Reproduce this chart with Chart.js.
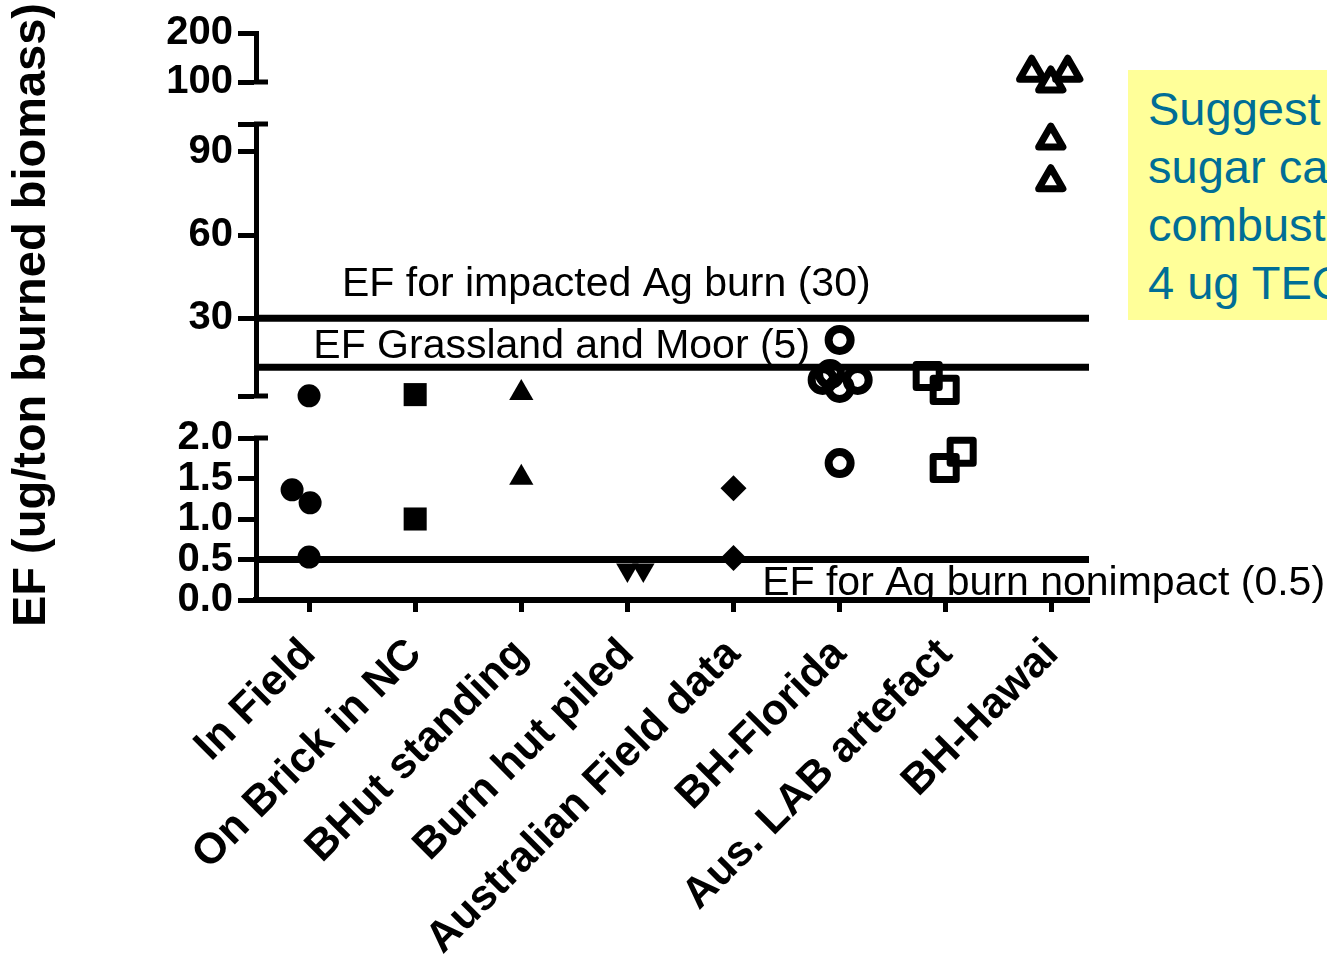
<!DOCTYPE html>
<html>
<head>
<meta charset="utf-8">
<title>EF by burn type</title>
<script src="https://cdn.jsdelivr.net/npm/chart.js@4.4.1/dist/chart.umd.min.js"></script>
<style>
  html, body { margin: 0; padding: 0; background: #fff; overflow: hidden; }
  #wrap { position: relative; width: 1327px; height: 956px; overflow: hidden; }
  #note {
    position: absolute; left: 1128px; top: 70px; width: 300px; height: 250px;
    background: #ffff99; color: #006e96; box-sizing: border-box;
    padding: 10px 0 0 20px; white-space: nowrap;
    font: 47px 'Liberation Sans', Arial, sans-serif; line-height: 58px;
  }
</style>
</head>
<body>
<div id="wrap">
  <canvas id="efChart" width="1327" height="956"></canvas>
  <div id="note">Suggest<br>sugar cane<br>combustion<br>4 ug TEQ</div>
</div>
<script>
// Data
const CATEGORIES = ['In Field', 'On Brick in NC', 'BHut standing', 'Burn hut piled',
  'Australian Field data', 'BH-Florida', 'Aus. LAB artefact', 'BH-Hawai'];
const Y_TITLE = 'EF (ug/ton burned biomass)';

// broken y axis: three segments
const TOP_TICKS = [100, 200];
const TOP_LABELS = ['100', '200'];
const MID_TICKS = [2, 30, 60, 90, 100];
const MID_LABELS = ['', '30', '60', '90', ''];
const LOW_TICKS = [0, 0.5, 1, 1.5, 2];
const LOW_LABELS = ['0.0', '0.5', '1.0', '1.5', '2.0'];

// reference lines (value as drawn)
const REF_IMPACTED = 30;
const REF_GRASS = 12.4;
const REF_NONIMPACT = 0.5;

// points: x = category index (with jitter), y = EF
const inFieldMid = [{x: 0, y: 2.05}];
const inFieldLow = [{x: -0.16, y: 1.36}, {x: 0.01, y: 1.2}, {x: 0, y: 0.53}];
const brickMid = [{x: 1, y: 2.5}];
const brickLow = [{x: 1, y: 1.0}];
const bhutMid = [{x: 2, y: 3.1}];
const bhutLow = [{x: 2, y: 1.51}];
const pileLow = [{x: 3, y: 0.37}, {x: 3.15, y: 0.37}];
const ausFieldLow = [{x: 4, y: 1.38}, {x: 4, y: 0.52}];
const floridaMid = [{x: 5, y: 22.2}, {x: 4.84, y: 7.8}, {x: 4.91, y: 9.9}, {x: 5, y: 4.9}, {x: 5.17, y: 7.8}];
const floridaLow = [{x: 5, y: 1.69}];
const ausLabMid = [{x: 5.83, y: 9.2}, {x: 5.99, y: 4.2}];
const ausLabLow = [{x: 5.99, y: 1.63}, {x: 6.15, y: 1.83}];
const hawaiTop = [{x: 6.81, y: 120}, {x: 6.99, y: 98}, {x: 7.15, y: 120}];
const hawaiMid = [{x: 6.99, y: 94.2}, {x: 6.99, y: 79.2}];

const FONT = "'Liberation Sans', Arial, sans-serif";
const X_MIN = -0.5;
const X_MAX = 7.35;

// text next to the reference lines
const REF_NOTES = [
  {text: 'EF for impacted Ag burn (30)', x: 0.31, y: 42.2, axis: 'yMid'},
  {text: 'EF Grassland and Moor (5)', x: 0.04, y: 19.6, axis: 'yMid'},
  {text: 'EF for Ag burn nonimpact (0.5)', x: 4.27, y: 0.2, axis: 'yLow'}
];

// short caps to the right of each axis segment end
const AXIS_CAPS = [
  {axis: 'yTop', end: 'min'},
  {axis: 'yMid', end: 'min'},
  {axis: 'yMid', end: 'max'},
  {axis: 'yLow', end: 'max'}
];

/**
 * Build a scatter dataset of markers
 */
function markers(data, axis, style, radius, filled, extra) {
  return Object.assign({
    type: 'scatter',
    data,
    yAxisID: axis,
    pointStyle: style,
    pointRadius: radius,
    pointHoverRadius: radius,
    pointBackgroundColor: filled ? '#000' : 'rgba(0,0,0,0)',
    pointBorderColor: '#000',
    pointBorderWidth: filled ? 0 : 7,
    clip: false
  }, extra || {});
}

function refLine(value, axis) {
  return {
    type: 'line',
    data: [{x: X_MIN, y: value}, {x: X_MAX, y: value}],
    yAxisID: axis,
    borderColor: '#000',
    borderWidth: 7,
    pointRadius: 0,
    showLine: true,
    fill: false
  };
}

function segmentAxis(min, max, tickValues, labels, weight, stackWeight) {
  return {
    type: 'linear',
    position: 'left',
    stack: 'ef',
    stackWeight,
    weight,
    min,
    max,
    afterBuildTicks: s => { s.ticks = tickValues.map(v => ({value: v})); },
    afterFit: s => { s.width = 256; },
    border: {display: true, color: '#000', width: 5},
    grid: {display: true, drawOnChartArea: false, drawTicks: true, tickLength: 18, tickWidth: 5, tickColor: '#000'},
    ticks: {
      autoSkip: false,
      padding: 5,
      color: '#000',
      font: {family: FONT, size: 40, weight: 'bold'},
      callback: (v, i) => labels[i]
    }
  };
}

function gapAxis(weight, stackWeight) {
  return {
    type: 'linear',
    position: 'left',
    stack: 'ef',
    stackWeight,
    weight,
    border: {display: false},
    grid: {display: false},
    ticks: {display: false}
  };
}

const yTitlePlugin = {
  id: 'yTitle',
  afterDraw(chart) {
    const ctx = chart.ctx;
    ctx.save();
    ctx.translate(32, 315);
    ctx.rotate(-Math.PI / 2);
    ctx.font = 'bold 47px ' + FONT;
    ctx.fillStyle = '#000';
    ctx.textAlign = 'center';
    ctx.textBaseline = 'middle';
    ctx.fillText(Y_TITLE, 0, 0);
    ctx.restore();
  }
};

const refNotesPlugin = {
  id: 'refNotes',
  afterDatasetsDraw(chart) {
    const ctx = chart.ctx;
    ctx.save();
    ctx.font = '41px ' + FONT;
    ctx.fillStyle = '#000';
    ctx.textAlign = 'left';
    ctx.textBaseline = 'middle';
    REF_NOTES.forEach(n => {
      const px = chart.scales.x.getPixelForValue(n.x);
      const py = chart.scales[n.axis].getPixelForValue(n.y);
      ctx.fillText(n.text, px, py);
    });
    ctx.restore();
  }
};

const axisCapsPlugin = {
  id: 'axisCaps',
  afterDraw(chart) {
    const ctx = chart.ctx;
    ctx.save();
    ctx.strokeStyle = '#000';
    ctx.lineWidth = 5;
    AXIS_CAPS.forEach(c => {
      const s = chart.scales[c.axis];
      const py = s.getPixelForValue(s[c.end]);
      ctx.beginPath();
      ctx.moveTo(s.right - 2, py);
      ctx.lineTo(s.right + 12, py);
      ctx.stroke();
    });
    ctx.restore();
  }
};

// rounded corners on thick marker outlines
const roundJoinPlugin = {
  id: 'roundJoin',
  beforeDatasetsDraw(chart) { chart.ctx.save(); chart.ctx.lineJoin = 'round'; },
  afterDatasetsDraw(chart) { chart.ctx.restore(); }
};

const datasets = [
  markers(inFieldMid, 'yMid', 'circle', 11.5, true),
  markers(inFieldLow, 'yLow', 'circle', 11.5, true),
  markers(brickMid, 'yMid', 'rect', 16.3, true),
  markers(brickLow, 'yLow', 'rect', 16.3, true),
  markers(bhutMid, 'yMid', 'triangle', 14, true),
  markers(bhutLow, 'yLow', 'triangle', 14, true),
  markers(pileLow, 'yLow', 'triangle', 13, true, {pointRotation: 180}),
  markers(ausFieldLow, 'yLow', 'rectRot', 13, true),
  markers(floridaMid, 'yMid', 'circle', 11, false, {pointBorderWidth: 8}),
  markers(floridaLow, 'yLow', 'circle', 11, false, {pointBorderWidth: 8}),
  markers(ausLabMid, 'yMid', 'rect', 16.3, false),
  markers(ausLabLow, 'yLow', 'rect', 16.3, false),
  markers(hawaiTop, 'yTop', 'triangle', 14, false),
  markers(hawaiMid, 'yMid', 'triangle', 14, false),
  refLine(REF_IMPACTED, 'yMid'),
  refLine(REF_GRASS, 'yMid'),
  refLine(REF_NONIMPACT, 'yLow')
];

new Chart(document.getElementById('efChart'), {
  type: 'scatter',
  data: {datasets},
  options: {
    responsive: false,
    devicePixelRatio: 1,
    animation: false,
    layout: {padding: {top: 33, right: 238, left: 0, bottom: 0}},
    plugins: {legend: {display: false}, tooltip: {enabled: false}},
    scales: {
      x: {
        type: 'linear',
        position: 'bottom',
        min: X_MIN,
        max: X_MAX,
        afterBuildTicks: s => { s.ticks = CATEGORIES.map((c, i) => ({value: i})); },
        afterFit: s => { s.height = 356; },
        border: {display: true, color: '#000', width: 6},
        grid: {display: true, drawOnChartArea: false, tickLength: 12, tickWidth: 5, tickColor: '#000'},
        ticks: {
          autoSkip: false,
          minRotation: 45,
          maxRotation: 45,
          padding: 17,
          color: '#000',
          font: {family: FONT, size: 43, weight: 'bold'},
          callback: v => CATEGORIES[v]
        }
      },
      yTop: segmentAxis(100, 200, TOP_TICKS, TOP_LABELS, 5, 49),
      yGapA: gapAxis(4, 42),
      yMid: segmentAxis(2, 100, MID_TICKS, MID_LABELS, 3, 272),
      yGapB: gapAxis(2, 42),
      yLow: segmentAxis(0, 2, LOW_TICKS, LOW_LABELS, 1, 162)
    }
  },
  plugins: [yTitlePlugin, refNotesPlugin, axisCapsPlugin, roundJoinPlugin]
});
</script>
</body>
</html>
